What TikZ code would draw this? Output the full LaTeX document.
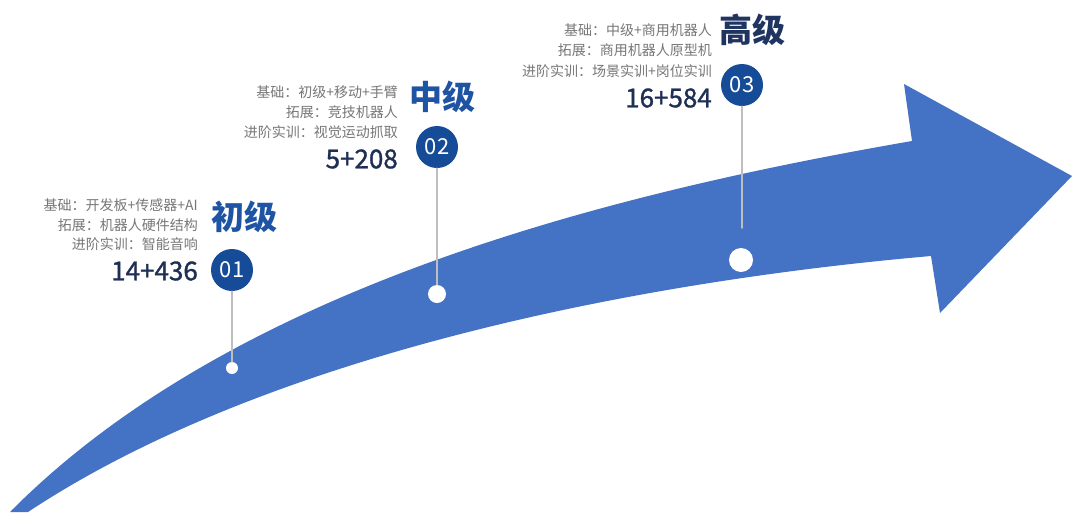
\documentclass[tikz,border=0pt]{standalone}
\usepackage{fontspec}
\setmainfont{Noto Sans CJK SC}
\newfontfamily\numfont[FakeBold=1.2]{Noto Sans CJK SC}
\definecolor{arrowblue}{RGB}{68,114,196}
\definecolor{dotblue}{RGB}{22,75,152}
\definecolor{titleblue}{RGB}{30,84,163}
\definecolor{titlenavy}{RGB}{31,52,96}
\definecolor{numnavy}{RGB}{31,47,84}
\definecolor{infogray}{RGB}{118,118,118}
\definecolor{stemgray}{RGB}{190,190,190}
\tikzset{
  stagecircle/.style={circle,fill=dotblue,text=white,minimum size=42pt,inner sep=0pt,font=\fontsize{22}{22}\selectfont},
  stagedot/.style={circle,fill=white,inner sep=0pt,minimum size=#1},
  stem/.style={draw=stemgray,line width=1.6pt},
  info/.style={anchor=east,inner sep=0pt,text=infogray,font=\fontsize{14}{14}\selectfont},
  stagenum/.style={anchor=east,inner sep=0pt,text=numnavy,font=\numfont\fontsize{26}{26}\selectfont},
  stagetitle/.style={anchor=west,inner sep=0pt,font=\bfseries\fontsize{33}{33}\selectfont}
}
\begin{document}
\begin{tikzpicture}[x=1pt,y=-1pt,line cap=round,line join=round]
  \useasboundingbox (0,0) rectangle (1080,512);
  % big curved arrow
  \fill[arrowblue] (10,512) .. controls (230,290) and (600,195) .. (912,141)
    -- (904,84) -- (1072,176) -- (940,313) -- (931,256)
    .. controls (600,285) and (250,365) .. (28,512) -- cycle;
  % stage 01
  \node[stagecircle] (c1) at (232,270) {01};
  \node[stagedot=12pt] (d1) at (232,368) {};
  \draw[stem] (c1) -- (d1);
  \node[info] (i1a) at (198,205) {基础：开发板+传感器+AI};
  \node[info] (i1b) at (198,225) {拓展：机器人硬件结构};
  \node[info] (i1c) at (198,244) {进阶实训：智能音响};
  \node[stagenum] (n1) at (198,271) {14+436};
  \node[stagetitle,text=titleblue] (t1) at (211,217) {初级};
  % stage 02
  \node[stagecircle] (c2) at (437,147) {02};
  \node[stagedot=18pt] (d2) at (437,294) {};
  \draw[stem] (c2) -- (d2);
  \node[info] (i2a) at (398,92) {基础：初级+移动+手臂};
  \node[info] (i2b) at (398,112) {拓展：竞技机器人};
  \node[info] (i2c) at (398,132) {进阶实训：视觉运动抓取};
  \node[stagenum] (n2) at (398,159) {5+208};
  \node[stagetitle,text=titleblue] (t2) at (409,97) {中级};
  % stage 03
  \node[stagecircle] (c3) at (742,85) {03};
  \node[stagedot=24pt] (d3) at (741,260) {};
  \coordinate (e3) at (742,228);
  \draw[stem] (c3) -- (e3);
  \node[info] (i3a) at (712,30) {基础：中级+商用机器人};
  \node[info] (i3b) at (712,50) {拓展：商用机器人原型机};
  \node[info] (i3c) at (712,71) {进阶实训：场景实训+岗位实训};
  \node[stagenum] (n3) at (712,98) {16+584};
  \node[stagetitle,text=titlenavy] (t3) at (719,30) {高级};
\end{tikzpicture}
\end{document}
